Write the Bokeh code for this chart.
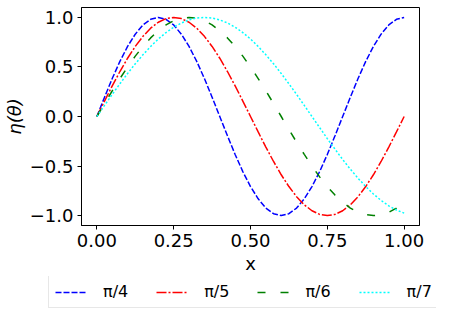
from bokeh.plotting import figure
from bokeh.models import Legend, LegendItem, FixedTicker, Range1d, ColumnDataSource
from bokeh.embed import file_html
from bokeh.resources import INLINE

x = [0.0, 0.025, 0.05, 0.075, 0.1, 0.125, 0.15, 0.175, 0.2, 0.225,
     0.25, 0.275, 0.3, 0.325, 0.35, 0.375, 0.4, 0.425, 0.45, 0.475,
     0.5, 0.525, 0.55, 0.575, 0.6, 0.625, 0.65, 0.675, 0.7, 0.725,
     0.75, 0.775, 0.8, 0.825, 0.85, 0.875, 0.9, 0.925, 0.95, 0.975, 1.0]

eta_pi4 = [0, .195, .383, .556, .707, .831, .924, .981, 1, .981,
           .924, .831, .707, .556, .383, .195, 0, -.195, -.383, -.556,
           -.707, -.831, -.924, -.981, -1, -.981, -.924, -.831, -.707, -.556,
           -.383, -.195, 0, .195, .383, .556, .707, .831, .924, .981, 1]
eta_pi5 = [0, .156, .309, .454, .588, .707, .809, .891, .951, .988,
           1, .988, .951, .891, .809, .707, .588, .454, .309, .156,
           0, -.156, -.309, -.454, -.588, -.707, -.809, -.891, -.951, -.988,
           -1, -.988, -.951, -.891, -.809, -.707, -.588, -.454, -.309, -.156, 0]
eta_pi6 = [0, .131, .259, .383, .5, .609, .707, .793, .866, .924,
           .966, .991, 1, .991, .966, .924, .866, .793, .707, .609,
           .5, .383, .259, .131, 0, -.131, -.259, -.383, -.5, -.609,
           -.707, -.793, -.866, -.924, -.966, -.991, -1, -.991, -.966, -.924, -.866]
eta_pi7 = [0, .112, .223, .330, .434, .532, .623, .707, .782, .847,
           .901, .944, .975, .994, 1, .994, .975, .944, .901, .847,
           .782, .707, .623, .532, .434, .330, .223, .112, 0, -.112,
           -.223, -.330, -.434, -.532, -.623, -.707, -.782, -.847, -.901, -.944, -.975]

labels = ["π/4", "π/5", "π/6", "π/7"]
colors = ["blue", "red", "green", "cyan"]
dashes = ["6 2", "10 2 2 2", "8 15", "2 2"]

x_ticks = [0.0, 0.25, 0.5, 0.75, 1.0]
x_tick_labels = ["0.00", "0.25", "0.50", "0.75", "1.00"]
y_ticks = [-1.0, -0.5, 0.0, 0.5, 1.0]
y_tick_labels = ["−1.0", "−0.5", "0.0", "0.5", "1.0"]

src = ColumnDataSource(dict(x=x, y4=eta_pi4, y5=eta_pi5, y6=eta_pi6, y7=eta_pi7))
ycols = ["y4", "y5", "y6", "y7"]

p = figure(width=436, height=276, output_backend="svg", toolbar_location=None,
           x_range=Range1d(-0.05, 1.05), y_range=Range1d(-1.1, 1.1),
           min_border_left=76, min_border_right=17, min_border_top=7,
           min_border_bottom=51)
p.background_fill_color = "white"
p.border_fill_color = "white"
p.grid.visible = False
p.outline_line_color = "black"
p.outline_line_width = 1

for yc, c, d in zip(ycols, colors, dashes):
    p.line("x", yc, source=src, line_color=c, line_width=1.5, line_dash=d)

for ax in (p.xaxis[0], p.yaxis[0]):
    ax.axis_line_color = "black"
    ax.major_tick_line_color = "black"
    ax.major_tick_out = 4
    ax.major_tick_in = 0
    ax.minor_tick_out = 0
    ax.minor_tick_in = 0
    ax.major_label_standoff = 4
    ax.major_label_text_font = "DejaVu Sans"
    ax.major_label_text_font_size = "18px"
    ax.major_label_text_color = "black"
    ax.axis_label_text_font = "DejaVu Sans"
    ax.axis_label_text_font_size = "18px"
    ax.axis_label_text_color = "black"
    ax.axis_label_standoff = 3

p.xaxis[0].ticker = FixedTicker(ticks=x_ticks)
p.xaxis[0].major_label_overrides = dict(zip(x_ticks, x_tick_labels))
p.yaxis[0].ticker = FixedTicker(ticks=y_ticks)
p.yaxis[0].major_label_overrides = dict(zip(y_ticks, y_tick_labels))
p.xaxis[0].axis_label = "x"
p.xaxis[0].axis_label_text_font_style = "normal"
p.yaxis[0].axis_label = "η(θ)"
p.yaxis[0].axis_label_text_font_style = "italic"
p.yaxis[0].axis_label_standoff = 2

# legend strip underneath (its lines share the same data source, kept out of view)
q = figure(width=436, height=35, output_backend="svg", toolbar_location=None,
           x_range=Range1d(10, 11), y_range=Range1d(10, 11),
           x_axis_type=None, y_axis_type=None, min_border=0)
q.grid.visible = False
q.outline_line_color = None
q.background_fill_color = "white"
q.border_fill_color = "white"
legend_renderers = []
for yc, c, d in zip(ycols, colors, dashes):
    legend_renderers.append(q.line("x", yc, source=src, line_color=c, line_width=1.5, line_dash=d))

legend = Legend(items=[LegendItem(label=l, renderers=[r]) for l, r in zip(labels, legend_renderers)],
                orientation="horizontal", location=(48, 3))
legend.glyph_width = 32
legend.glyph_height = 18
legend.label_height = 18
legend.label_standoff = 16
legend.spacing = 28
legend.padding = 6
legend.margin = 0
legend.label_text_font = "DejaVu Sans"
legend.label_text_font_size = "16px"
legend.label_text_color = "black"
legend.border_line_color = "#d0d0d0"
legend.border_line_width = 1
legend.background_fill_color = "white"
q.add_layout(legend, "center")

open("out.html", "w").write(file_html([p, q], INLINE))
